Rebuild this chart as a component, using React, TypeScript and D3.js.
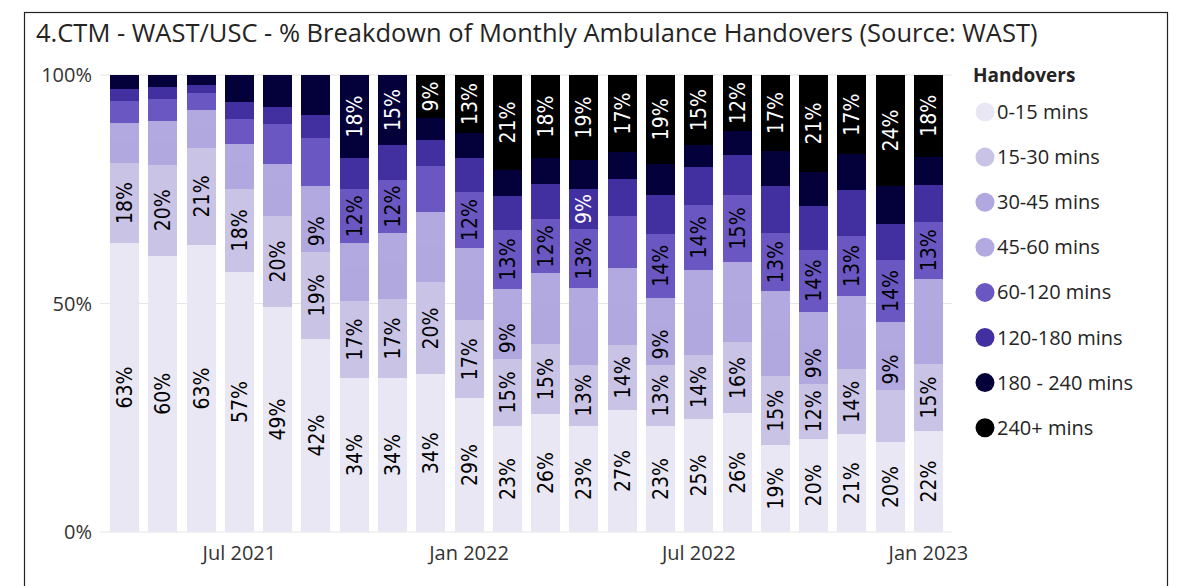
import React, { useEffect, useRef } from 'react';
import * as d3 from 'd3';

const months = [
  'Apr 2021', 'May 2021', 'Jun 2021', 'Jul 2021', 'Aug 2021', 'Sep 2021', 'Oct 2021', 'Nov 2021',
  'Dec 2021', 'Jan 2022', 'Feb 2022', 'Mar 2022', 'Apr 2022', 'May 2022', 'Jun 2022', 'Jul 2022',
  'Aug 2022', 'Sep 2022', 'Oct 2022', 'Nov 2022', 'Dec 2022', 'Jan 2023',
];
const xTickLabels = ['Jul 2021', 'Jan 2022', 'Jul 2022', 'Jan 2023'];
const yTicks = [0, 0.5, 1];

const seriesNames = [
  '0-15 mins', '15-30 mins', '30-45 mins', '45-60 mins',
  '60-120 mins', '120-180 mins', '180 - 240 mins', '240+ mins',
];
const seriesColors = ['#E9E7F3', '#C9C3E6', '#B1A8E0', '#B2A9E0', '#6B57C2', '#422FA0', '#04003A', '#000000'];
const labelColors = ['#000', '#000', '#000', '#000', '#000', '#fff', '#fff', '#fff'];

// % of handovers per month
const mins0to15 = [63.2, 60.4, 62.8, 56.9, 49.2, 42.2, 33.7, 33.7, 34.4, 29.3, 23.2, 25.8, 23.2, 26.7, 23.2, 24.7, 26.0, 19.0, 20.4, 21.3, 19.7, 22.1];
const mins15to30 = [17.5, 19.9, 21.2, 18.2, 19.9, 19.0, 16.8, 17.3, 20.1, 17.1, 14.7, 15.3, 13.3, 14.2, 13.3, 14.0, 15.6, 15.1, 12.0, 14.2, 11.4, 14.7];
const mins30to45 = [5.0, 5.4, 4.8, 5.6, 6.5, 9.0, 7.5, 8.2, 8.4, 8.4, 9.0, 8.3, 8.4, 8.4, 9.0, 9.6, 9.4, 9.8, 9.0, 8.6, 9.0, 10.0];
const mins45to60 = [3.75, 4.2, 3.5, 4.2, 4.9, 5.4, 5.2, 6.2, 6.9, 7.4, 6.3, 7.2, 8.4, 8.4, 5.7, 9.0, 8.3, 8.8, 6.8, 7.4, 5.9, 8.6];
const mins60to120 = [4.8, 4.8, 3.7, 5.5, 8.75, 10.5, 11.8, 11.6, 10.1, 12.3, 12.9, 11.8, 12.9, 11.4, 14.0, 14.2, 14.6, 12.7, 13.6, 13.1, 13.6, 12.6];
const mins120to180 = [2.6, 2.6, 1.75, 3.7, 3.7, 5.0, 6.8, 7.7, 5.7, 7.4, 7.4, 7.7, 8.75, 8.1, 8.5, 8.3, 8.75, 10.3, 9.6, 10.1, 7.9, 7.9];
const mins180to240 = [3.1, 2.6, 2.2, 5.9, 7.0, 8.75, 18.2, 15.3, 4.8, 5.5, 5.7, 5.7, 6.3, 5.9, 6.8, 4.8, 5.3, 7.7, 7.4, 7.7, 8.3, 6.3];
const mins240plus = [0, 0, 0, 0, 0, 0, 0, 0, 9.4, 12.7, 20.8, 18.2, 18.6, 16.8, 19.4, 15.3, 12.3, 16.6, 21.2, 17.3, 24.3, 17.9];

// which month indexes show a data label, per series
const allMonths = months.map((_, i) => i);
const labelled: number[][] = [
  allMonths,
  allMonths.filter(i => i !== 20),
  [5, 10, 14, 18, 20],
  [],
  [6, 7, 9, 10, 11, 12, 14, 15, 16, 17, 18, 19, 20, 21],
  [12],
  [6, 7],
  allMonths.filter(i => i >= 8),
];

const seriesValues = [mins0to15, mins15to30, mins30to45, mins45to60, mins60to120, mins120to180, mins180to240, mins240plus];

const App: React.FC = () => {
  const svgRef = useRef<SVGSVGElement>(null);

  useEffect(() => {
    if (!svgRef.current) return;
    const svg = d3.select(svgRef.current);
    svg.selectAll('*').remove();

    const uiFont = '"Open Sans", "Noto Sans", sans-serif';
    const labelFont = '"DejaVu Sans Condensed", "DejaVu Sans", sans-serif';

    const rows = months.map((m, i) => {
      const row: Record<string, any> = { month: m };
      seriesNames.forEach((s, k) => { row[s] = seriesValues[k][i]; });
      return row;
    });

    const stacked = d3.stack<Record<string, any>>()
      .keys(seriesNames)
      .offset(d3.stackOffsetExpand)(rows);

    const x = d3.scaleBand<string>()
      .domain(months)
      .range([105.4, 947.6])
      .paddingInner(0.24)
      .paddingOuter(0.12);

    const y = d3.scaleLinear().domain([0, 1]).range([532, 75]);

    // frame
    svg.append('rect')
      .attr('x', 24.5).attr('y', 12.5)
      .attr('width', 1143).attr('height', 620)
      .attr('fill', 'none').attr('stroke', '#222').attr('stroke-width', 1.2);

    svg.append('text')
      .attr('x', 36).attr('y', 42)
      .attr('font-family', uiFont).attr('font-size', 25.5)
      .attr('fill', '#252423')
      .text('4.CTM - WAST/USC - % Breakdown of Monthly Ambulance Handovers (Source: WAST)');

    // gridlines
    svg.append('g').selectAll('line')
      .data(yTicks)
      .enter().append('line')
      .attr('x1', 100).attr('x2', 952)
      .attr('y1', d => y(d)).attr('y2', d => y(d))
      .attr('stroke', '#E6E6E6').attr('stroke-width', 1);

    svg.append('g').selectAll('text')
      .data(yTicks)
      .enter().append('text')
      .attr('x', 92).attr('y', d => y(d))
      .attr('dy', '0.35em')
      .attr('text-anchor', 'end')
      .attr('font-family', uiFont).attr('font-size', 20)
      .attr('fill', '#333')
      .text(d => `${d * 100}%`);

    svg.append('g').selectAll('text')
      .data(xTickLabels)
      .enter().append('text')
      .attr('x', d => (x(d) || 0) + x.bandwidth() / 2)
      .attr('y', 560)
      .attr('text-anchor', 'middle')
      .attr('font-family', uiFont).attr('font-size', 20)
      .attr('fill', '#333')
      .text(d => d);

    // bars
    const layers = svg.append('g')
      .attr('shape-rendering', 'crispEdges')
      .selectAll('g')
      .data(stacked)
      .enter().append('g')
      .attr('fill', (_, k) => seriesColors[k]);

    layers.selectAll('rect')
      .data(d => d.map((seg, i) => ({ seg, i })))
      .enter().append('rect')
      .attr('x', d => x(months[d.i]) || 0)
      .attr('width', x.bandwidth())
      .attr('y', d => y(d.seg[1]))
      .attr('height', d => Math.max(0, y(d.seg[0]) - y(d.seg[1])));

    // data labels
    const labelG = svg.append('g');
    stacked.forEach((layer, k) => {
      labelG.selectAll(`text.s${k}`)
        .data(labelled[k])
        .enter().append('text')
        .attr('class', `s${k}`)
        .attr('transform', i => {
          const cx = (x(months[i]) || 0) + x.bandwidth() / 2;
          const cy = (y(layer[i][0]) + y(layer[i][1])) / 2;
          return `translate(${cx},${cy}) rotate(-90)`;
        })
        .attr('text-anchor', 'middle')
        .attr('dy', '0.36em')
        .attr('font-family', labelFont).attr('font-size', 21)
        .attr('fill', labelColors[k])
        .text(i => `${Math.round(seriesValues[k][i])}%`);
    });

    // legend
    const legend = svg.append('g');
    legend.append('text')
      .attr('x', 973).attr('y', 75).attr('dy', '0.35em')
      .attr('font-family', uiFont).attr('font-size', 19).attr('font-weight', 'bold')
      .attr('fill', '#252423')
      .text('Handovers');

    const items = legend.selectAll('g.item')
      .data(seriesNames)
      .enter().append('g')
      .attr('class', 'item')
      .attr('transform', (_, k) => `translate(0,${112 + k * 45.1})`);

    items.append('circle')
      .attr('cx', 985).attr('cy', 0).attr('r', 9.5)
      .attr('fill', (_, k) => seriesColors[k]);

    items.append('text')
      .attr('x', 997).attr('dy', '0.35em')
      .attr('font-family', uiFont).attr('font-size', 20)
      .attr('fill', '#252423')
      .text(d => d);
  }, []);

  return (
    <svg
      ref={svgRef}
      width={1193}
      height={586}
      style={{ position: 'absolute', left: 0, top: 0, display: 'block', background: '#fff' }}
    />
  );
};

export default App;
